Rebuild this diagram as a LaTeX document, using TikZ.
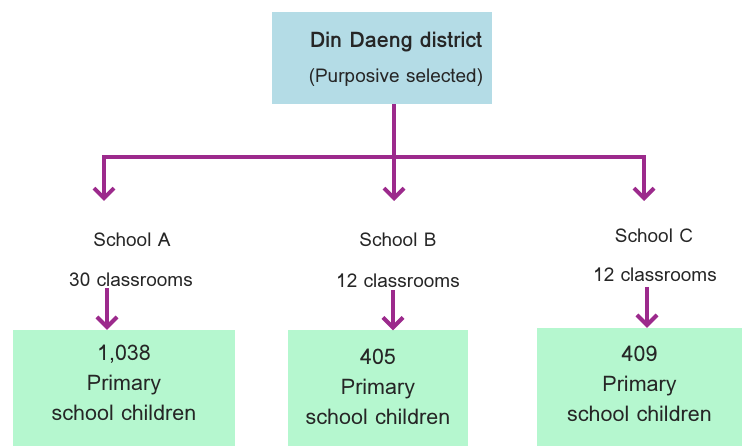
\documentclass[tikz,border=0pt]{standalone}
\usepackage{fontspec}
\setmainfont{Loma}
\usetikzlibrary{arrows.meta}
\definecolor{topblue}{HTML}{B4DCE6}
\definecolor{boxgreen}{HTML}{B5F7CF}
\definecolor{arrowpurple}{HTML}{9C2A8C}
\begin{document}
\begin{tikzpicture}[x=1pt,y=-1pt,
  txt/.style={font=\fontsize{19}{22}\selectfont, text=black!85, inner sep=0pt},
  topbox/.style={fill=topblue, minimum width=220pt, minimum height=92pt, inner sep=0pt},
  greenbox/.style={fill=boxgreen, minimum height=116pt, inner sep=0pt},
  gtxt/.style={inner sep=0pt, align=center, font=\fontsize{21.5}{30}\selectfont, text=black!85},
  arr/.style={draw=arrowpurple, line width=4pt, -{Straight Barb[length=10pt,width=20pt]}},
  ln/.style={draw=arrowpurple, line width=4pt}]
\useasboundingbox (0,0) rectangle (742,446);
\node[topbox] (top) at (382,58) {};
\node[txt, font=\fontsize{21.5}{24}\selectfont\bfseries] (t1) at (396,42) {Din Daeng district};
\node[txt] (t2) at (396,78) {(Purposive selected)};
% trunk
\coordinate (jB) at (394,157);
\coordinate (jA) at (104,157);
\coordinate (jC) at (644,157);
\coordinate (eA) at (104,201);
\coordinate (eB) at (394,201);
\coordinate (eC) at (644,201);
\draw[ln] (top.south -| jB) -- (jB);
\draw[ln, line cap=rect] (jA) -- (jC);
\draw[arr] (jA) -- (eA);
\draw[arr] (jB) -- (eB);
\draw[arr] (jC) -- (eC);
% labels
\node[txt] (sA) at (132,240) {School A};
\node[txt] (sB) at (398,240) {School B};
\node[txt] (sC) at (654,236) {School C};
\node[txt] (cA) at (131,280) {30 classrooms};
\node[txt] (cB) at (398,281) {12 classrooms};
\node[txt] (cC) at (655,275) {12 classrooms};
% boxes
\node[greenbox, minimum width=222pt] (bA) at (124,388) {};
\node[greenbox, minimum width=180pt] (bB) at (378,388.5) {};
\node[greenbox, minimum width=205pt, minimum height=118pt] (bC) at (639.5,387) {};
\node[gtxt] (nA) at (124,383) {1,038\\Primary\\school children};
\node[gtxt] (nB) at (378,387) {405\\Primary\\school children};
\node[gtxt] (nC) at (639.5,384) {409\\Primary\\school children};
% small arrows
\coordinate (aA1) at (107,288);
\coordinate (aB1) at (393,290);
\coordinate (aC1) at (647,287);
\draw[arr] (aA1) -- (aA1 |- bA.north);
\draw[arr] (aB1) -- (aB1 |- bB.north);
\draw[arr] (aC1) -- (aC1 |- bC.north);
\end{tikzpicture}
\end{document}
